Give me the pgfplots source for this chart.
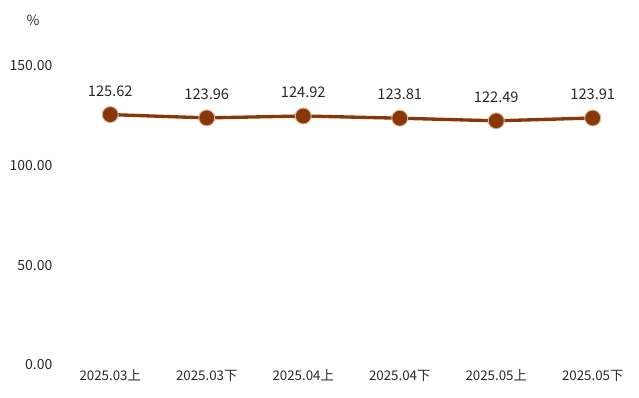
\documentclass[border=0pt]{standalone}
\usepackage{fontspec}
\setmainfont{Noto Sans CJK SC}
\usepackage{pgfplots}
\pgfplotsset{compat=1.18}
\definecolor{linebrown}{RGB}{135,56,10}
\definecolor{markedge}{RGB}{225,180,150}
\definecolor{txt}{RGB}{40,40,40}
\begin{document}
\begin{tikzpicture}[x=0.75pt,y=0.75pt]
\useasboundingbox (0,0) rectangle (639,398);
\node[font=\fontsize{10.5}{12}\selectfont, text=txt] at (33,378) {\%};
\begin{axis}[
  at={(62pt*0.75,33pt*0.75)}, anchor=south west,
  scale only axis,
  width=434.25pt, height=224.25pt,
  xmin=-0.5, xmax=5.5, ymin=0, ymax=150,
  axis line style={draw=none},
  tick style={draw=none},
  clip=false,
  xtick={0,1,2,3,4,5},
  xticklabels={2025.03上,2025.03下,2025.04上,2025.04下,2025.05上,2025.05下},
  ytick={0,50,100,150},
  yticklabels={0.00,50.00,100.00,150.00},
  yticklabel style={font=\fontsize{10.5}{12}\selectfont, text=txt, anchor=east, inner sep=0pt, xshift=-7pt},
  xticklabel style={font=\fontsize{10}{12}\selectfont, text=txt, anchor=north, inner sep=0pt, yshift=-3.5pt},
  nodes near coords,
  point meta=explicit symbolic,
  nodes near coords style={font=\fontsize{11}{13}\selectfont, text=txt, anchor=south, yshift=10pt},
]
\addplot[color=linebrown, line width=2.5pt, mark=*, mark size=6pt,
  mark options={fill=linebrown, draw=markedge, line width=0.7pt}]
  coordinates {
  (0,125.62) [125.62]
  (1,123.96) [123.96]
  (2,124.92) [124.92]
  (3,123.81) [123.81]
  (4,122.49) [122.49]
  (5,123.91) [123.91]
  };
\end{axis}
\end{tikzpicture}
\end{document}
